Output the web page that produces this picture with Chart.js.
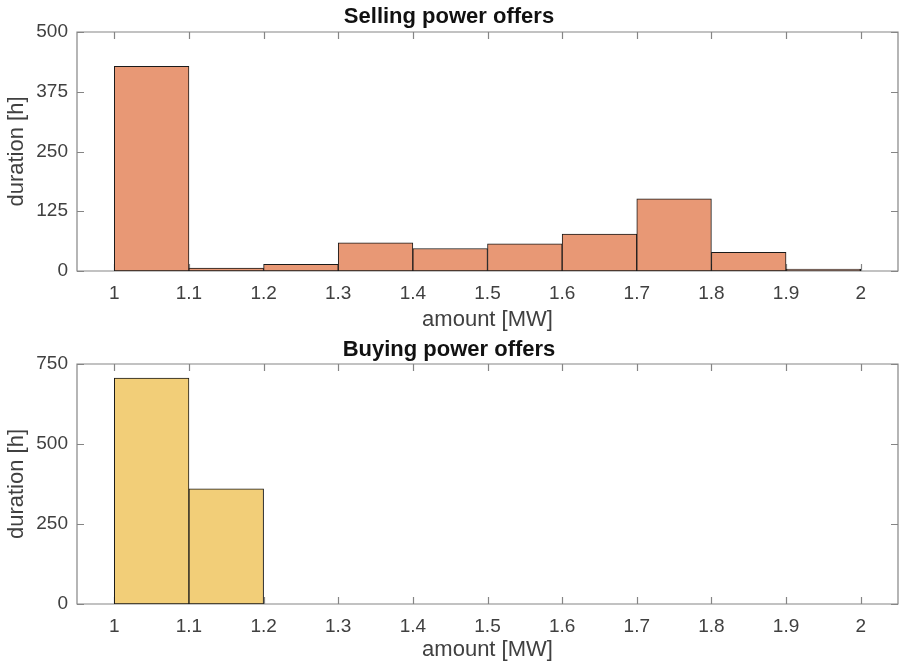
<!DOCTYPE html>
<html>
<head>
<meta charset="utf-8">
<script src="https://cdn.jsdelivr.net/npm/chart.js@4"></script>
<style>
  body { margin: 0; background: #fff; }
  #wrap { position: relative; width: 905px; height: 671px; }
  canvas { position: absolute; left: 0; }
</style>
</head>
<body>
<div id="wrap">
  <canvas id="sellChart" width="905" height="335" style="top:0"></canvas>
  <canvas id="buyChart" width="905" height="336" style="top:335px"></canvas>
</div>
<script>
// histogram bins (bin centres, width 0.1 MW)
const sellBins = [1.05, 1.15, 1.25, 1.35, 1.45, 1.55, 1.65, 1.75, 1.85, 1.95];
const sellHours = [428, 6, 14, 59, 47, 57, 77, 151, 39, 4];

const buyBins = [1.05, 1.15];
const buyHours = [706, 360];

const xTicks = [1, 1.1, 1.2, 1.3, 1.4, 1.5, 1.6, 1.7, 1.8, 1.9, 2];
const sellYTicks = [0, 125, 250, 375, 500];
const buyYTicks = [0, 250, 500, 750];

const FONT = "'Liberation Sans', Arial, Helvetica, sans-serif";

// matlab style box + inward ticks
const matlabAxes = {
  id: 'matlabAxes',
  beforeDatasetsDraw(chart) {
    const ctx = chart.ctx;
    const a = chart.chartArea;
    const x = chart.scales.x, y = chart.scales.y;
    const len = 7;
    ctx.save();
    ctx.strokeStyle = '#858585';
    ctx.lineWidth = 1.2;
    ctx.beginPath();
    ctx.rect(a.left, a.top, a.right - a.left, a.bottom - a.top);
    x.ticks.forEach(t => {
      const px = Math.round(x.getPixelForValue(t.value)) + 0.5;
      ctx.moveTo(px, a.bottom); ctx.lineTo(px, a.bottom - len);
      ctx.moveTo(px, a.top); ctx.lineTo(px, a.top + len);
    });
    y.ticks.forEach(t => {
      const py = Math.round(y.getPixelForValue(t.value)) + 0.5;
      ctx.moveTo(a.left, py); ctx.lineTo(a.left + len, py);
      ctx.moveTo(a.right, py); ctx.lineTo(a.right - len, py);
    });
    ctx.stroke();
    ctx.restore();
  }
};

function makeHist(id, title, bins, hours, color, yMax, yTicks, opts) {
  const data = bins.map((b, i) => ({ x: b, y: hours[i] }));
  return new Chart(document.getElementById(id), {
    type: 'bar',
    data: {
      datasets: [{
        data: data,
        backgroundColor: color,
        borderColor: '#1a1a1a',
        borderWidth: 1,
        borderSkipped: false,
        barPercentage: 1,
        categoryPercentage: 1
      }]
    },
    options: {
      responsive: false,
      animation: false,
      events: [],
      layout: { padding: { left: 0, right: 7, top: 0, bottom: 0 } },
      plugins: {
        legend: { display: false },
        tooltip: { enabled: false },
        title: {
          display: true,
          text: title,
          color: '#111',
          font: { family: FONT, size: 22, weight: 'bold' },
          padding: { top: opts.titleTop, bottom: opts.titleBottom }
        }
      },
      scales: {
        x: {
          type: 'linear',
          offset: false,
          min: 0.95,
          max: 2.05,
          grid: { display: false, drawTicks: false, offset: false },
          border: { display: false },
          afterBuildTicks: s => { s.ticks = xTicks.map(v => ({ value: v })); },
          afterFit: s => { s.height = opts.xHeight; },
          ticks: {
            color: '#404040',
            padding: 11,
            maxRotation: 0,
            font: { family: FONT, size: 19 },
            callback: v => String(v)
          },
          title: {
            display: true,
            text: 'amount [MW]',
            color: '#404040',
            font: { family: FONT, size: 22 },
            padding: { top: 0, bottom: opts.xTitleBottom }
          }
        },
        y: {
          min: 0,
          max: yMax,
          grid: { display: false, drawTicks: false },
          border: { display: false },
          afterBuildTicks: s => { s.ticks = yTicks.map(v => ({ value: v })); },
          afterFit: s => { s.width = 77; },
          ticks: {
            color: '#404040',
            padding: 9,
            font: { family: FONT, size: 19 }
          },
          title: {
            display: true,
            text: 'duration [h]',
            color: '#404040',
            font: { family: FONT, size: 22 },
            padding: { top: 4, bottom: 0 }
          }
        }
      }
    },
    plugins: [matlabAxes]
  });
}

makeHist('sellChart', 'Selling power offers', sellBins, sellHours, '#E89875', 500, sellYTicks,
  { titleTop: 3.5, titleBottom: 2.1, xHeight: 64, xTitleBottom: 2 });
makeHist('buyChart', 'Buying power offers', buyBins, buyHours, '#F2CE78', 750, buyYTicks,
  { titleTop: 2, titleBottom: 0.6, xHeight: 67, xTitleBottom: 8 });
</script>
</body>
</html>
